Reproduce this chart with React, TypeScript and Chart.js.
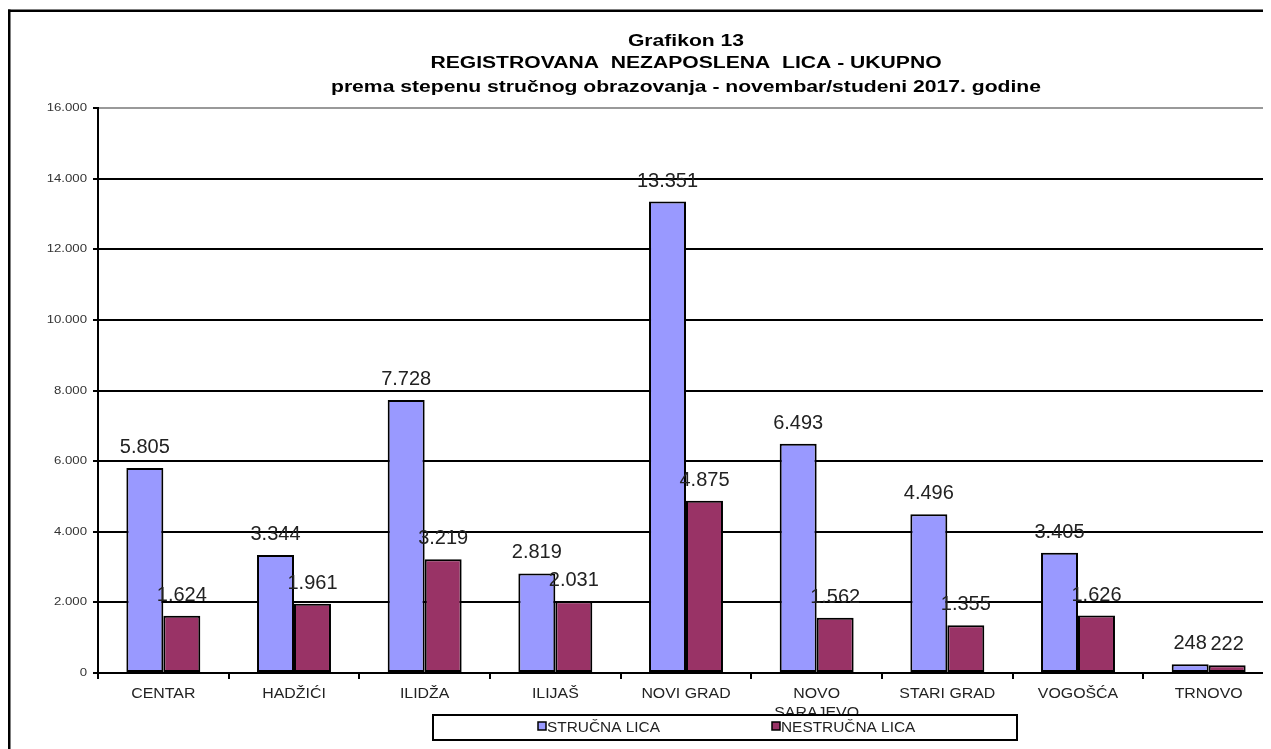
import React, { useEffect, useRef } from "react";
import { Chart, registerables } from "chart.js";

Chart.register(...registerables);

const titleLines = [
  "Grafikon 13",
  "REGISTROVANA  NEZAPOSLENA  LICA - UKUPNO",
  "prema stepenu stručnog obrazovanja - novembar/studeni 2017. godine",
];
const categories: (string | string[])[] = [
  "CENTAR",
  "HADŽIĆI",
  "ILIDŽA",
  "ILIJAŠ",
  "NOVI GRAD",
  ["NOVO", "SARAJEVO"],
  "STARI GRAD",
  "VOGOŠĆA",
  "TRNOVO",
];
const seriesNames = ["STRUČNA LICA", "NESTRUČNA LICA"];
const strucna = [5805, 3344, 7728, 2819, 13351, 6493, 4496, 3405, 248];
const nestrucna = [1624, 1961, 3219, 2031, 4875, 1562, 1355, 1626, 222];
const yTicks = [0, 2000, 4000, 6000, 8000, 10000, 12000, 14000, 16000];

const W = 1356;
const H = 741;

function fmt(v: number): string {
  return Math.round(v)
    .toString()
    .replace(/\B(?=(\d{3})+(?!\d))/g, ".");
}

function sText(
  ctx: CanvasRenderingContext2D,
  text: string,
  x: number,
  y: number,
  font: string,
  sx: number,
  align: CanvasTextAlign,
  baseline: CanvasTextBaseline = "alphabetic",
  color = "#000"
) {
  ctx.save();
  ctx.font = font;
  ctx.fillStyle = color;
  ctx.textAlign = align;
  ctx.textBaseline = baseline;
  ctx.translate(x, y);
  ctx.scale(sx, 1);
  ctx.fillText(text, 0, 0);
  ctx.restore();
}

const F = "'Liberation Sans', Arial, sans-serif";

const decorPlugin = {
  id: "decor",
  beforeDraw(chart: any) {
    const ctx = chart.ctx as CanvasRenderingContext2D;
    ctx.save();
    ctx.fillStyle = "#fff";
    ctx.fillRect(0, 0, W, H);
    ctx.fillStyle = "#000";
    ctx.fillRect(0, 1.5, W, 2.5);
    ctx.fillRect(0, 1.5, 2.5, H);
    ctx.restore();
  },
  afterDatasetsDraw(chart: any) {
    const ctx = chart.ctx as CanvasRenderingContext2D;
    chart.data.datasets.forEach((ds: any, di: number) => {
      const meta = chart.getDatasetMeta(di);
      meta.data.forEach((bar: any, i: number) => {
        sText(ctx, fmt(ds.data[i]), bar.x, bar.y - 15, `20px ${F}`, 1, "center", "alphabetic", "#222");
      });
    });
  },
  afterDraw(chart: any) {
    const ctx = chart.ctx as CanvasRenderingContext2D;
    // title
    const ty = [38, 60, 84];
    titleLines.forEach((t, i) => {
      sText(ctx, t, W / 2, ty[i], `bold 16px ${F}`, 1.32, "center");
    });
    // y tick labels
    const ys = chart.scales.y;
    yTicks.forEach((v) => {
      sText(ctx, fmt(v), 79, ys.getPixelForValue(v), `11px ${F}`, 1.2, "right", "middle", "#333");
    });
    // x tick labels
    const xs = chart.scales.x;
    categories.forEach((c, i) => {
      const lines = Array.isArray(c) ? c : [c];
      const x = xs.getPixelForTick(i);
      lines.forEach((ln, j) => {
        sText(ctx, ln, x, 690 + j * 19, `15px ${F}`, 1.06, "center", "alphabetic", "#222");
      });
    });
    // legend
    ctx.save();
    ctx.fillStyle = "#fff";
    ctx.fillRect(425, 707, 584, 25);
    ctx.strokeStyle = "#000";
    ctx.lineWidth = 2;
    ctx.strokeRect(425, 707, 584, 25);
    ctx.restore();
    const itemX = [530, 764];
    chart.data.datasets.forEach((ds: any, di: number) => {
      const x = itemX[di];
      ctx.save();
      ctx.fillStyle = ds.backgroundColor;
      ctx.fillRect(x, 714, 8, 8);
      ctx.strokeStyle = "#000";
      ctx.lineWidth = 1.5;
      ctx.strokeRect(x, 714, 8, 8);
      ctx.restore();
      sText(ctx, ds.label, x + 9, 724, `14px ${F}`, 1.1, "left", "alphabetic", "#222");
    });
  },
};

export default function App() {
  const ref = useRef<HTMLCanvasElement | null>(null);
  useEffect(() => {
    document.documentElement.style.overflow = "hidden";
    document.body.style.overflow = "hidden";
    const canvas = ref.current;
    if (!canvas) return;
    const chart = new Chart(canvas, {
      type: "bar",
      data: {
        labels: categories as any,
        datasets: [
          {
            label: seriesNames[0],
            data: strucna,
            backgroundColor: "#9999FF",
            borderColor: "#000",
            borderWidth: 2,
            borderSkipped: false,
          },
          {
            label: seriesNames[1],
            data: nestrucna,
            backgroundColor: "#993366",
            borderColor: "#000",
            borderWidth: 2,
            borderSkipped: false,
          },
        ],
      },
      options: {
        responsive: false,
        animation: false,
        devicePixelRatio: 1,
        layout: { padding: { left: 40, right: 90, top: 100, bottom: 16 } },
        datasets: { bar: { categoryPercentage: 0.566, barPercentage: 1 } },
        plugins: {
          legend: { display: false },
          title: { display: false },
          tooltip: { enabled: false },
        },
        scales: {
          x: {
            ticks: { display: false },
            grid: {
              offset: true,
              drawOnChartArea: false,
              drawTicks: true,
              tickLength: 6,
              color: "#000",
              lineWidth: 2,
            },
            border: { display: true, color: "#000", width: 2 },
            afterFit: (s: any) => {
              s.height = 60;
            },
          },
          y: {
            min: 0,
            max: 16000,
            ticks: { display: false, stepSize: 2000 },
            grid: {
              color: (c: any) => (c.tick && c.tick.value === 16000 ? "#999999" : "#000"),
              lineWidth: 2,
              drawTicks: true,
              tickLength: 5,
              tickColor: "#000",
            },
            border: { display: true, color: "#000", width: 2 },
            afterFit: (s: any) => {
              s.width = 50;
            },
          },
        },
      },
      plugins: [decorPlugin],
    });
    return () => chart.destroy();
  }, []);
  return (
    <div style={{ width: 1263, height: H, overflow: "hidden", position: "relative" }}>
      <canvas ref={ref} width={W} height={H} style={{ width: W, height: H, display: "block" }} />
    </div>
  );
}
